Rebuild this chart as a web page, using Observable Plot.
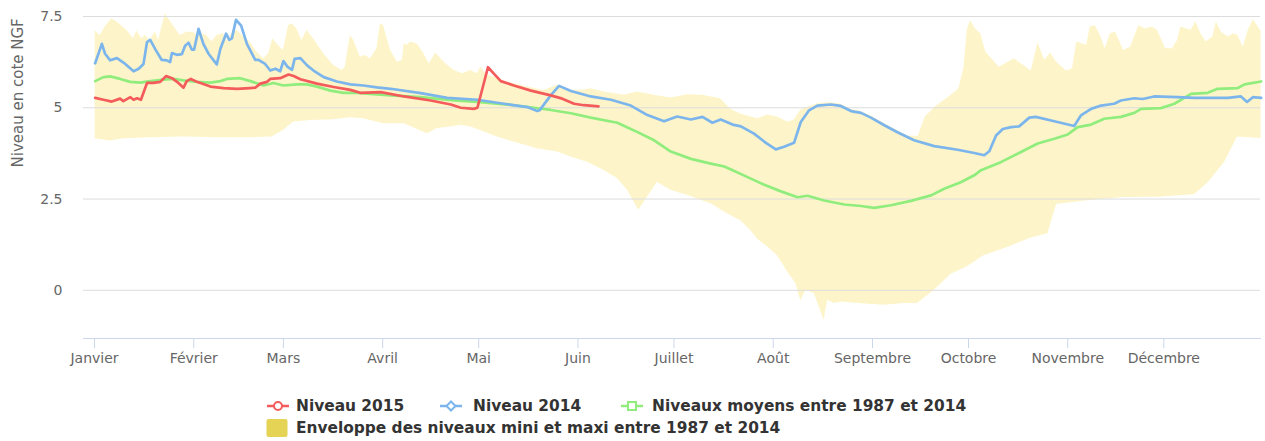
<!DOCTYPE html>
<html><head><meta charset="utf-8">
<script src="https://cdn.jsdelivr.net/npm/d3@7"></script>
<script src="https://cdn.jsdelivr.net/npm/@observablehq/plot@0.6"></script>
<style>
body{margin:0;background:#fff;font-family:"DejaVu Sans",sans-serif;}
#wrap{position:relative;width:1265px;height:441px;overflow:hidden;}
.lt{position:absolute;font-weight:bold;font-size:15.4px;color:#333;white-space:nowrap;line-height:18px;}
.ls{position:absolute;}
</style></head><body><div id="wrap"></div>
<script>
const monthStarts=[0,31,59,90,120,151,181,212,243,273,304,334];
const monthNames=["Janvier","Février","Mars","Avril","Mai","Juin","Juillet","Août","Septembre","Octobre","Novembre","Décembre"];
const yTicks=[0,2.5,5,7.5];
const yTitle="Niveau en cote NGF";

// Niveau 2015
const d2015=[0.2,2.8,5.4,8,9,11.2,12.2,13.3,14.5,16.4,18.4,20.5,22.4,24.2,26.2,27.8,28.8,30.1,32,36.2,40.3,44.5,48.6,50.2,51.8,53.9,54.9,58,60.6,62.2,64.3,69.5,74.7,79.9,83,89.4,96.7,105,111.3,114.4,118.5,119.6,122.9,124.8,126.9,131,136.3,142.5,146.1,149.8,152.9,157.4];
const v2015=[5.27,5.22,5.17,5.25,5.18,5.29,5.22,5.26,5.22,5.68,5.68,5.71,5.87,5.81,5.68,5.55,5.73,5.79,5.71,5.58,5.54,5.52,5.54,5.55,5.66,5.71,5.79,5.81,5.91,5.87,5.78,5.66,5.57,5.49,5.41,5.43,5.31,5.20,5.09,5.00,4.97,5.00,6.11,5.93,5.73,5.61,5.47,5.34,5.25,5.11,5.07,5.04];

// Niveau 2014
const d2014=[0.2,2.3,3.3,4.9,7,9.6,12.2,13.8,15.3,16.4,17.4,19,21,22.6,23.6,24.2,25.7,27.3,28.3,29.4,30.4,31.1,32.5,34,35.6,38.2,39.3,41.1,42.1,42.9,44.2,45.8,47.6,50.2,51.2,53.3,54.9,56.5,58,59,60.3,61.7,62.5,64.3,66.4,68.4,71.6,75.7,79.9,84,88.2,92.5,101.9,110.2,119.6,127.9,135.2,138.3,139,142.5,145.1,148.8,155,161.3,167.5,172.7,177.9,182,186.3,189.9,193,195.6,199.3,201.9,206,209.7,212.8,215.4,218.5,220.6,223.2,225.8,230,233.1,236.3,239.4,242.5,246.7,250.8,256,262.3,269.6,274.8,277.9,279.5,281.6,283.7,286.3,288.8,292,294,299.8,306,308.1,311.3,314.4,318.5,320.6,324.8,327.4,331,338.3,343.5,349.8,354,358.1,360,361.8,364.4];
const v2014=[6.22,6.75,6.48,6.30,6.36,6.20,6.00,6.07,6.20,6.80,6.86,6.60,6.31,6.30,6.25,6.50,6.45,6.47,6.70,6.78,6.59,6.59,7.16,6.75,6.48,6.19,6.61,7.03,6.86,6.90,7.41,7.25,6.75,6.31,6.31,6.20,6.02,6.07,6.00,6.28,6.12,6.04,6.34,6.36,6.16,6.02,5.84,5.72,5.64,5.61,5.56,5.52,5.40,5.27,5.22,5.11,5.02,4.91,4.93,5.34,5.60,5.46,5.31,5.22,5.06,4.80,4.63,4.76,4.68,4.75,4.59,4.68,4.54,4.49,4.29,4.04,3.86,3.93,4.04,4.61,4.93,5.06,5.09,5.05,4.91,4.86,4.73,4.52,4.33,4.11,3.95,3.85,3.76,3.70,3.81,4.24,4.42,4.47,4.49,4.73,4.75,4.63,4.50,4.79,4.97,5.06,5.11,5.20,5.26,5.24,5.31,5.29,5.27,5.27,5.27,5.31,5.16,5.29,5.27];

// Niveaux moyens 1987-2014
const dMoy=[0.2,2.8,4.9,8,11.2,14.3,17.4,21.6,24.7,27.8,32,36.2,39.3,41.4,45.5,48.7,52.8,55.9,59,63.2,66.3,69.5,73.7,77.8,82,86.1,92.5,101.9,112.3,119.6,130,137.3,142.5,148.8,155,163.3,168.5,174.8,180,186.3,192.5,196.7,198.8,204,209.2,214.4,219.6,222.7,227.9,234.2,239.4,243.5,248.8,255,261.3,265.4,270.6,274.8,276.9,283.1,289.4,294.6,299.8,304,307.1,311.3,315.4,320.6,324.8,326.9,333.1,337.3,342.5,347.7,350.8,357.1,359.2,364.4];
const vMoy=[5.73,5.84,5.86,5.79,5.71,5.69,5.73,5.77,5.79,5.75,5.71,5.69,5.73,5.79,5.81,5.73,5.61,5.68,5.61,5.64,5.64,5.58,5.47,5.41,5.41,5.38,5.34,5.29,5.20,5.16,5.08,5.00,4.94,4.85,4.73,4.59,4.38,4.11,3.80,3.60,3.47,3.39,3.31,3.10,2.89,2.71,2.55,2.59,2.46,2.35,2.31,2.26,2.33,2.45,2.60,2.78,2.96,3.15,3.29,3.51,3.79,4.02,4.15,4.27,4.47,4.54,4.70,4.75,4.86,4.97,4.99,5.11,5.38,5.41,5.52,5.54,5.64,5.72];

// Enveloppe : maxi
const dMax=[0.2,1.8,3.3,5.4,7,10.1,12.2,13.2,14.8,15.8,17.4,19,20,22.1,24.2,26.8,28.8,30.9,32,33.5,35.1,36.7,38.2,40.3,41.4,42.9,44.5,46.6,48.6,50.7,52.8,54.4,55.7,57,59,60.6,61.7,63.2,64.8,66.3,68.4,71.6,74.7,77.3,78.3,79.9,81,83,84.6,86.2,88.2,89.3,90.3,92.5,94.6,96.2,96.7,97.7,98.8,100.8,102.9,104.5,106.6,109.2,112.3,114.9,117.5,119.6,120.6,122.7,124.8,126.9,131,135.2,140.4,144.6,148.8,152.9,155,159.2,165.4,169.6,174.8,180,185.2,190,195.6,198.8,202,207.1,210.2,213.3,216.5,218.5,220.6,223,226,230,233,236.3,239.4,242.5,246.7,250.8,254,257.3,259.5,262.6,266.8,270,271.6,272.6,273.6,275.2,276.8,278.4,282.6,287.3,292.6,294.7,296.8,298.6,300.5,303.6,305.5,306.8,309.9,311,312.6,314.2,315.7,317.3,318.9,321.5,323.6,326.2,328.3,330.4,332,334.6,336.7,338.3,339.3,342.5,344,345.6,347.2,349.3,350.4,352,354.1,355.7,357.2,358.8,360.4,362,363.5,364.4];
const vMax=[7.10,6.98,7.21,7.44,7.35,7.12,6.89,7.10,6.89,6.98,6.84,7.08,6.84,7.57,7.30,6.98,7.07,7.07,6.98,7.03,6.98,6.80,6.98,7.03,6.84,7.03,7.12,6.94,6.80,6.53,6.34,6.48,6.89,6.75,6.57,7.25,7.30,7.16,6.84,7.12,6.89,6.48,6.16,6.02,6.11,6.98,6.84,6.39,6.43,6.34,6.61,7.30,7.25,6.57,6.25,6.30,6.75,6.71,6.80,6.75,6.48,6.20,6.50,6.25,6.02,5.93,6.02,5.93,6.11,5.89,5.84,5.75,5.66,5.57,5.47,5.62,5.47,5.49,5.52,5.43,5.34,5.43,5.34,5.27,5.36,5.34,5.25,4.95,4.82,4.70,4.80,4.75,4.61,4.65,4.93,5.02,5.12,5.14,5.10,4.96,4.90,4.78,4.57,4.38,4.22,4.22,4.75,5.02,5.29,5.52,6.11,7.12,7.39,7.16,7.03,6.53,6.11,6.34,6.01,6.78,6.30,6.50,6.25,6.01,6.07,6.80,6.71,7.21,7.25,6.98,6.62,7.03,7.07,6.57,6.66,7.25,7.16,7.21,7.12,6.62,6.62,6.84,7.21,7.12,7.35,7.03,6.80,6.94,7.35,7.07,6.94,7.03,6.98,6.66,7.12,7.41,7.21,7.08];

// Enveloppe : mini
const dMin=[0.2,4.9,9.1,17.4,27.8,38.2,48.6,55.4,59,62.2,67.4,74.7,79.9,84,88.2,90.3,96.7,104,107.1,111.3,114.4,117.5,120.6,125.8,131,138.3,144.6,148.8,154,159.2,163.3,166.5,170,172.7,175.8,180,186.3,192.5,197.7,201.9,205,207.1,210.2,213.3,216.5,219.1,220.6,222.2,224.8,227.9,229,231,233.6,238.3,246.7,252.9,257.1,262.3,267.5,272.9,277.5,285.8,292.1,297.8,300.5,306.8,313.1,321.5,332,343.6,348,353,357,364.4];
const vMin=[4.15,4.09,4.15,4.18,4.20,4.18,4.18,4.20,4.38,4.61,4.65,4.67,4.73,4.70,4.61,4.56,4.56,4.29,4.43,4.47,4.52,4.47,4.38,4.20,4.06,3.88,3.79,3.65,3.51,3.28,3.06,2.74,2.19,2.55,2.96,2.74,2.57,2.37,2.10,1.90,1.64,1.40,1.19,0.95,0.50,0.18,-0.30,0.00,-0.09,-0.82,-0.27,-0.36,-0.32,-0.36,-0.41,-0.36,-0.36,0.00,0.43,0.66,0.93,1.19,1.42,1.55,2.35,2.42,2.48,2.54,2.55,2.62,2.96,3.51,4.20,4.16];

const seriesNames=["Niveau 2015","Niveau 2014","Niveaux moyens entre 1987 et 2014","Enveloppe des niveaux mini et maxi entre 1987 et 2014"];
const colors={red:"#f45b5b",blue:"#7cb5ec",green:"#90ed7d",yellow:"#e4d354",envFill:"#fdf5c9"};

const pts=(ds,vs)=>ds.map((d,i)=>({day:d,val:vs[i]}));
const nEnv=Math.max(dMax.length,dMin.length);
const env=d3.range(nEnv).map(i=>{
  const a=Math.min(i,dMax.length-1), b=Math.min(i,dMin.length-1);
  return {xa:dMax[a],ya:vMax[a],xb:dMin[b],yb:vMin[b]};
});

const chart=Plot.plot({
  width:1265,height:380,
  marginLeft:83,marginRight:5,marginTop:16,marginBottom:42,
  x:{domain:[-3.44,364.2]},
  y:{domain:[-1.32,7.5]},
  style:{fontFamily:"'DejaVu Sans',sans-serif",fontSize:"14px",color:"#666",background:"white"},
  marks:[
    Plot.area(env,{x1:"xa",y1:"ya",x2:"xb",y2:"yb",fill:colors.envFill}),
    Plot.ruleY(yTicks,{stroke:"#dcdcdc",strokeWidth:1}),
    Plot.line(pts(dMoy,vMoy),{x:"day",y:"val",stroke:colors.green,strokeWidth:2.7}),
    Plot.line(pts(d2014,v2014),{x:"day",y:"val",stroke:colors.blue,strokeWidth:2.7}),
    Plot.line(pts(d2015,v2015),{x:"day",y:"val",stroke:colors.red,strokeWidth:2.7}),
    Plot.frame({anchor:"bottom",stroke:"#ccd6eb"}),
    Plot.axisX({ticks:monthStarts,tickFormat:d=>monthNames[monthStarts.indexOf(d)],tickSize:10,tickPadding:5,stroke:"#ccd6eb",strokeOpacity:1,fill:"#666",label:null,fontSize:14}),
    Plot.axisY({ticks:yTicks,tickSize:0,tickPadding:21,tickFormat:d=>String(d),fill:"#666",label:null,fontSize:14}),
    Plot.text([yTitle],{frameAnchor:"left",rotate:-90,dx:-65,dy:-10,fill:"#666",fontSize:15})
  ]
});
const wrap=document.getElementById("wrap");
chart.style.position="absolute";chart.style.left="0";chart.style.top="0";
wrap.appendChild(chart);

// legend
const NS="http://www.w3.org/2000/svg";
function sym(kind,color,left,top){
  const s=document.createElementNS(NS,"svg");
  s.setAttribute("width",22);s.setAttribute("height",18);
  s.setAttribute("class","ls");s.style.left=left+"px";s.style.top=top+"px";
  if(kind==="area"){
    s.innerHTML=`<rect x="0.5" y="0" width="21" height="18" rx="2" fill="${color}"/>`;
  }else{
    let m="";
    if(kind==="circle") m=`<circle cx="11" cy="9" r="4" fill="#fff" stroke="${color}" stroke-width="2"/>`;
    if(kind==="diamond") m=`<path d="M11 4.5 L15.5 9 L11 13.5 L6.5 9 Z" fill="#fff" stroke="${color}" stroke-width="2"/>`;
    if(kind==="square") m=`<rect x="7" y="5" width="8" height="8" fill="#fff" stroke="${color}" stroke-width="2"/>`;
    s.innerHTML=`<line x1="0" y1="9" x2="22" y2="9" stroke="${color}" stroke-width="2.5"/>`+m;
  }
  wrap.appendChild(s);
}
function txt(t,left,top){
  const d=document.createElement("div");d.className="lt";d.textContent=t;
  d.style.left=left+"px";d.style.top=top+"px";wrap.appendChild(d);
}
sym("circle",colors.red,267,397);txt(seriesNames[0],296,397);
sym("diamond",colors.blue,440,397);txt(seriesNames[1],473,397);
sym("square",colors.green,621,397);txt(seriesNames[2],652,397);
sym("area",colors.yellow,266,419);txt(seriesNames[3],296,419);
</script></body></html>
